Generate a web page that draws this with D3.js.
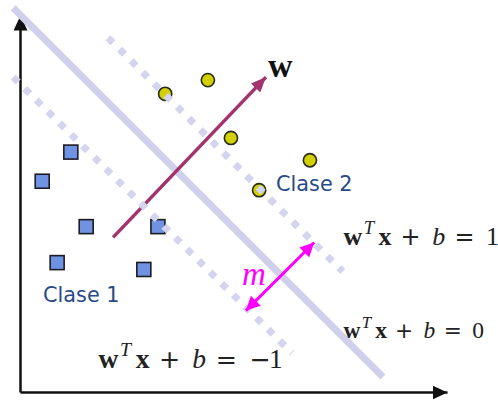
<!DOCTYPE html>
<html>
<head>
<meta charset="utf-8">
<script src="https://cdn.jsdelivr.net/npm/d3@7"></script>
<style>
  body { margin: 0; background: #fff; }
  svg { display: block; }
</style>
</head>
<body>
<script>
// points in plot units (same scale on both axes)
const clase1 = [[11.9, 56.0], [5.2, 49.2], [15.5, 38.6], [32.3, 38.6], [8.7, 30.2], [29.0, 28.6]]
const clase2 = [[34.0, 69.6], [44.0, 72.8], [49.4, 59.3], [67.9, 54.1], [56.0, 47.1]]

// lines: [start, end]
const hyperplane = [[-1.6, 89.7], [85.0, 3.5]]
const marginPlus = [[20.6, 82.7], [75.6, 28.1]]
const marginMinus = [[-1.6, 73.5], [63.7, 9.1]]
const wVector = [[21.8, 36.1], [57.6, 73.5]]
const marginArrow = [[52.9, 19.0], [68.9, 34.9]]

// equation labels: position (px), font size, right hand side
const equations = [
    { x: 343, y: 245, size: 26, rhs: '1' },
    { x: 343, y: 338, size: 23.5, rhs: '0' },
    { x: 98, y: 368, size: 27.5, rhs: '\u22121' }
]

const width = 498
const height = 402

const svg = d3.select('body')
    .append('svg')
    .attr('width', width)
    .attr('height', height)

const x = d3.scaleLinear().domain([0, 100]).range([20, 447])
const y = d3.scaleLinear().domain([0, 88]).range([392, 15])

const defs = svg.append('defs')
function marker(id, color, len, half) {
    defs.append('marker')
        .attr('id', id)
        .attr('viewBox', `${-len} ${-half} ${len} ${half * 2}`)
        .attr('refX', 0).attr('refY', 0)
        .attr('markerWidth', len).attr('markerHeight', half * 2)
        .attr('markerUnits', 'userSpaceOnUse')
        .attr('orient', 'auto-start-reverse')
        .append('path')
        .attr('d', `M0,0L${-len},${-half}L${-len},${half}Z`)
        .attr('fill', color)
}
marker('headBlack', '#111', 15, 7)
marker('headW', '#a2336c', 15, 6.5)
marker('headM', '#ff00ff', 14, 7)

// axes without ticks
svg.append('g')
    .attr('transform', `translate(0,${y(0)})`)
    .call(d3.axisBottom(x).ticks(0).tickSizeOuter(0))
    .select('.domain')
    .attr('stroke', '#111').attr('stroke-width', 2.5)
    .attr('marker-end', 'url(#headBlack)')
svg.append('g')
    .attr('transform', `translate(${x(0)},0)`)
    .call(d3.axisLeft(y).ticks(0).tickSizeOuter(0))
    .select('.domain')
    .attr('stroke', '#111').attr('stroke-width', 2.5)
    .attr('marker-end', 'url(#headBlack)')

const line = d3.line().x(d => x(d[0])).y(d => y(d[1]))

// hyperplane
svg.append('path')
    .attr('d', line(hyperplane))
    .attr('stroke', '#d0d0ec').attr('stroke-width', 7).attr('fill', 'none')

// w vector
svg.append('path')
    .attr('d', line(wVector))
    .attr('stroke', '#a2336c').attr('stroke-width', 3.5).attr('fill', 'none')
    .attr('marker-end', 'url(#headW)')

// class 1 squares
const side = 14
svg.selectAll('rect.c1')
    .data(clase1)
    .enter().append('rect')
    .attr('class', 'c1')
    .attr('x', d => x(d[0]) - side / 2)
    .attr('y', d => y(d[1]) - side / 2)
    .attr('width', side).attr('height', side)
    .attr('fill', '#6f93e2').attr('stroke', '#1c1c24').attr('stroke-width', 1.6)

// class 2 circles
svg.selectAll('circle.c2')
    .data(clase2)
    .enter().append('circle')
    .attr('class', 'c2')
    .attr('cx', d => x(d[0]))
    .attr('cy', d => y(d[1]))
    .attr('r', 6.6)
    .attr('fill', '#d2d000').attr('stroke', '#2a2a1a').attr('stroke-width', 1.6)

// margins (dotted, drawn over the points)
svg.selectAll('path.margin')
    .data([marginPlus, marginMinus])
    .enter().append('path')
    .attr('class', 'margin')
    .attr('d', d => line(d))
    .attr('stroke', '#d4d4ee').attr('stroke-width', 7).attr('fill', 'none')
    .attr('stroke-dasharray', '7 9.3')

// margin width arrow
svg.append('path')
    .attr('d', line(marginArrow))
    .attr('stroke', '#ff00ff').attr('stroke-width', 3).attr('fill', 'none')
    .attr('marker-start', 'url(#headM)')
    .attr('marker-end', 'url(#headM)')

// labels
svg.append('text')
    .attr('x', 268).attr('y', 77)
    .attr('font-family', 'Liberation Serif, serif')
    .attr('font-weight', 'bold')
    .attr('font-size', 34)
    .attr('fill', '#111')
    .text('w')

svg.append('text')
    .attr('x', 242).attr('y', 285)
    .attr('font-family', 'Liberation Serif, serif')
    .attr('font-style', 'italic')
    .attr('font-size', 33)
    .attr('fill', '#ff00ff')
    .text('m')

const claseLabels = [
    { x: 276, y: 191, t: 'Clase 2' },
    { x: 43, y: 302, t: 'Clase 1' }
]
svg.selectAll('text.clase')
    .data(claseLabels)
    .enter().append('text')
    .attr('class', 'clase')
    .attr('x', d => d.x).attr('y', d => d.y)
    .attr('font-family', 'DejaVu Sans, sans-serif')
    .attr('font-size', 20.8)
    .attr('fill', '#284a86')
    .text(d => d.t)

// w^T x + b = ...   (c = glyph centre in em from the start of the label)
const serif = 'Liberation Serif, serif'
const symb = 'DejaVu Sans, sans-serif'
const pieces = [
    { t: 'w', c: 0.38, weight: 'bold', font: serif },
    { t: 'T', c: 1.0, style: 'italic', sup: true, font: serif },
    { t: 'x', c: 1.62, weight: 'bold', font: serif },
    { t: '+', c: 2.6, font: symb, scale: 0.92 },
    { t: 'b', c: 3.68, style: 'italic', font: serif },
    { t: '=', c: 4.67, font: symb, scale: 0.92 }
]
equations.forEach(eq => {
    const g = svg.append('g').attr('fill', '#222')
    pieces.forEach(p => {
        const fs = p.sup ? eq.size * 0.72 : eq.size * (p.scale || 1)
        g.append('text')
            .attr('x', eq.x + p.c * eq.size)
            .attr('y', eq.y - (p.sup ? eq.size * 0.42 : 0))
            .attr('text-anchor', 'middle')
            .attr('font-family', p.font)
            .attr('font-size', fs)
            .attr('font-weight', p.weight || 'normal')
            .attr('font-style', p.style || 'normal')
            .text(p.t)
    })
    // right hand side: minus sign from the symbol font, digit from the serif
    let rx = eq.x + 5.5 * eq.size
    if (eq.rhs.startsWith('\u2212')) {
        g.append('text')
            .attr('x', rx).attr('y', eq.y)
            .attr('font-family', symb).attr('font-size', eq.size * 0.92)
            .text('\u2212')
        rx += 0.72 * eq.size
    }
    g.append('text')
        .attr('x', rx).attr('y', eq.y)
        .attr('font-family', serif).attr('font-size', eq.size)
        .text(eq.rhs.replace('\u2212', ''))
})
</script>
</body>
</html>
